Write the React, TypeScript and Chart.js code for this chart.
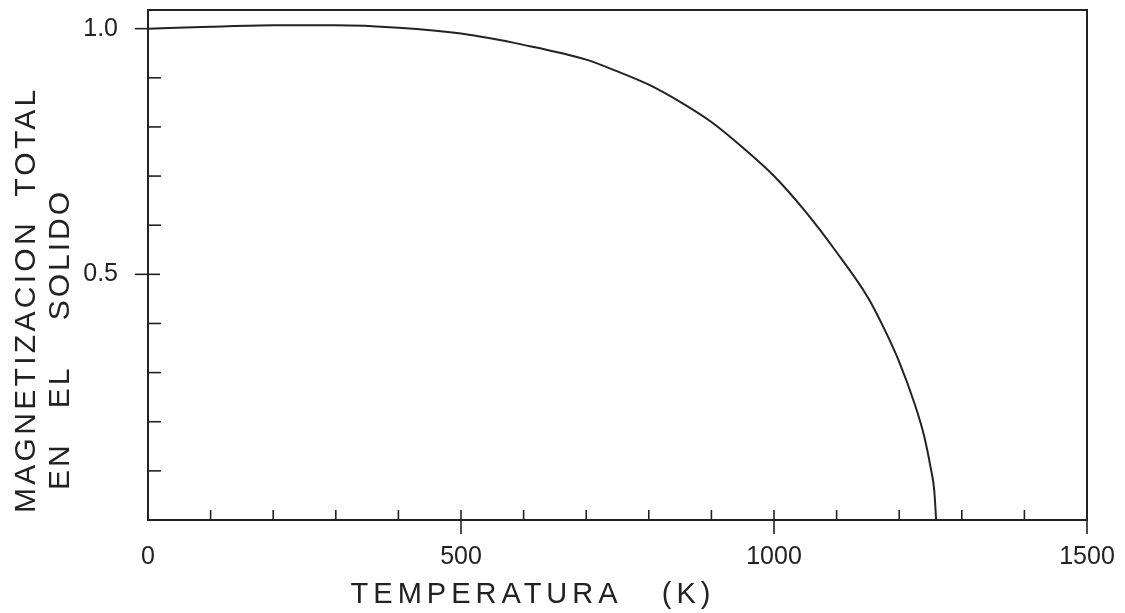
import React, { useEffect, useRef } from "react";
import { Chart, registerables } from "chart.js";

Chart.register(...registerables);

// Data
const temperatures = [0, 100, 200, 300, 400, 500, 600, 700, 750, 800, 850, 900, 950, 1000, 1050, 1100, 1150, 1175, 1200, 1225, 1240, 1250, 1256, 1259];
const magnetization = [1.0, 1.004, 1.007, 1.007, 1.002, 0.99, 0.967, 0.937, 0.913, 0.886, 0.851, 0.81, 0.758, 0.70, 0.628, 0.545, 0.453, 0.392, 0.322, 0.235, 0.17, 0.108, 0.06, 0.0];

const xTickMarks = [0, 100, 200, 300, 400, 500, 600, 700, 800, 900, 1000, 1100, 1200, 1300, 1400, 1500];
const xMajorTicks = [500, 1000, 1500];
const xLabelTicks = [0, 500, 1000, 1500];
const yTickMarks = [0.1, 0.2, 0.3, 0.4, 0.5, 0.6, 0.7, 0.8, 0.9, 1.0];
const yLabelTicks = [0.5, 1.0];

const xTitle = "TEMPERATURA   (K)";
const yTitleLine1 = "MAGNETIZACION  TOTAL";
const yTitleLine2 = "EN   EL    SOLIDO";

const INK = "#222";

const framePlugin = {
  id: "framePlugin",
  afterDraw(chart: any) {
    const { ctx, chartArea } = chart;
    const { left, right, top, bottom } = chartArea;
    const xs = chart.scales.x;
    const ys = chart.scales.y;
    ctx.save();
    ctx.strokeStyle = INK;
    ctx.lineWidth = 2;
    ctx.strokeRect(left, top, right - left, bottom - top);

    // x ticks
    ctx.lineWidth = 1.6;
    for (const v of xTickMarks) {
      const px = xs.getPixelForValue(v);
      ctx.beginPath();
      if (xMajorTicks.includes(v)) {
        ctx.moveTo(px, bottom - 10);
        ctx.lineTo(px, bottom + 14);
      } else if (v !== 0) {
        ctx.moveTo(px, bottom);
        ctx.lineTo(px, bottom - 10);
      }
      ctx.stroke();
    }
    // y ticks
    for (const v of yTickMarks) {
      const py = ys.getPixelForValue(v);
      ctx.beginPath();
      if (Math.abs(v - 1.0) < 1e-6) {
        ctx.moveTo(left - 13, py);
        ctx.lineTo(left, py);
      } else if (Math.abs(v - 0.5) < 1e-6) {
        ctx.moveTo(left - 13, py);
        ctx.lineTo(left + 12, py);
      } else {
        ctx.moveTo(left, py);
        ctx.lineTo(left + 13, py);
      }
      ctx.stroke();
    }

    // axis titles
    ctx.fillStyle = INK;
    (ctx as any).letterSpacing = "5px";
    ctx.font = "29px 'Liberation Sans', Arial, sans-serif";
    ctx.textAlign = "center";
    ctx.textBaseline = "alphabetic";
    ctx.fillText(xTitle, 533, 603);

    ctx.font = "30px 'Liberation Sans', Arial, sans-serif";
    ctx.textAlign = "left";
    ctx.textBaseline = "middle";
    (ctx as any).letterSpacing = "3.3px";
    ctx.save();
    ctx.translate(27, 513);
    ctx.rotate(-Math.PI / 2);
    ctx.fillText(yTitleLine1, 0, 0);
    ctx.restore();
    (ctx as any).letterSpacing = "3px";
    ctx.save();
    ctx.translate(61, 490);
    ctx.rotate(-Math.PI / 2);
    ctx.fillText(yTitleLine2, 0, 0);
    ctx.restore();
    ctx.restore();
  },
};

const zeroPadding = (scale: any) => {
  scale.paddingTop = 0;
  scale.paddingBottom = 0;
  scale.paddingLeft = 0;
  scale.paddingRight = 0;
};

export default function App() {
  const canvasRef = useRef<HTMLCanvasElement | null>(null);

  useEffect(() => {
    document.body.style.margin = "0";
    const canvas = canvasRef.current;
    if (!canvas) return;
    const points = temperatures.map((t, i) => ({ x: t, y: magnetization[i] }));
    const tickFont = { family: "'Liberation Sans', Arial, sans-serif", size: 25 };
    const chart = new Chart(canvas, {
      type: "line",
      data: {
        datasets: [
          {
            data: points,
            borderColor: INK,
            borderWidth: 2,
            pointRadius: 0,
            fill: false,
            cubicInterpolationMode: "monotone",
          },
        ],
      },
      options: {
        animation: false,
        responsive: true,
        maintainAspectRatio: false,
        layout: { autoPadding: false, padding: { left: 0, top: 10, right: 38, bottom: 0 } },
        plugins: { legend: { display: false }, tooltip: { enabled: false } },
        scales: {
          x: {
            type: "linear",
            min: 0,
            max: 1500,
            grid: { display: false, drawTicks: false },
            border: { display: false },
            ticks: {
              color: INK,
              font: tickFont,
              padding: 22,
              maxRotation: 0,
              autoSkip: false,
              callback: (v: any) => String(v),
            },
            afterBuildTicks: (scale: any) => {
              scale.ticks = xLabelTicks.map((value) => ({ value }));
            },
            afterFit: (scale: any) => {
              scale.height = 93;
              zeroPadding(scale);
            },
          },
          y: {
            type: "linear",
            min: 0,
            max: 1.038,
            grid: { display: false, drawTicks: false },
            border: { display: false },
            ticks: {
              color: INK,
              font: tickFont,
              padding: 30,
              autoSkip: false,
              callback: (v: any) => Number(v).toFixed(1),
            },
            afterBuildTicks: (scale: any) => {
              scale.ticks = yLabelTicks.map((value) => ({ value }));
            },
            afterFit: (scale: any) => {
              scale.width = 148;
              zeroPadding(scale);
            },
          },
        },
      },
      plugins: [framePlugin],
    });
    return () => chart.destroy();
  }, []);

  return (
    <div style={{ width: 1125, height: 613, position: "relative", background: "#fff" }}>
      <canvas ref={canvasRef} />
    </div>
  );
}
